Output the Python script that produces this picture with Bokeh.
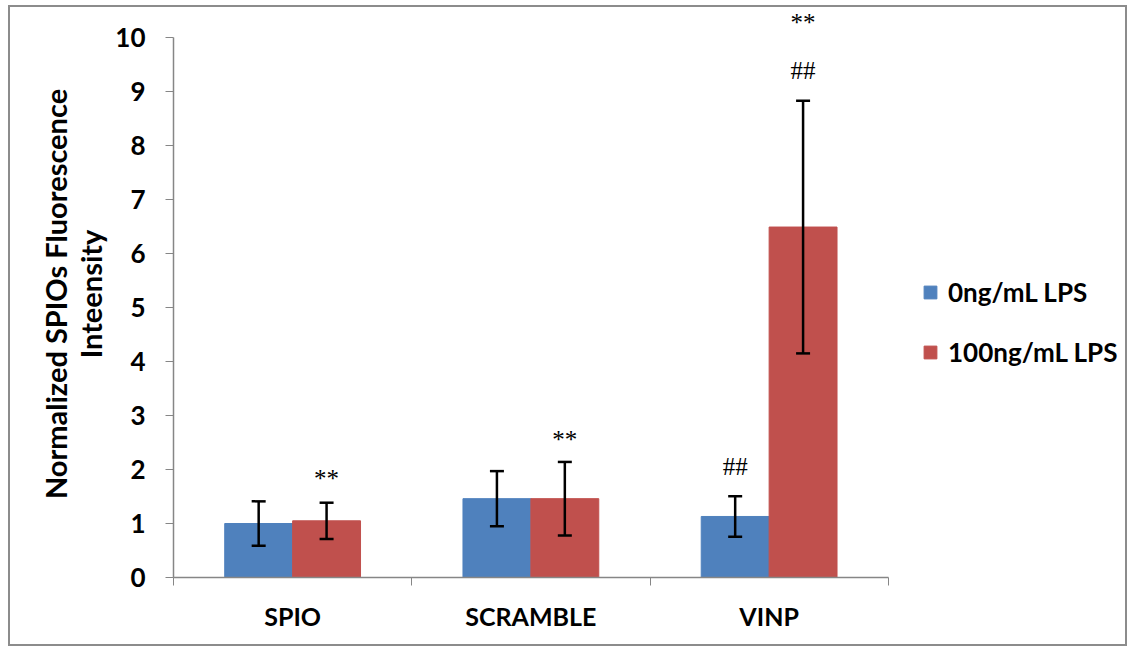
from bokeh.plotting import figure
from bokeh.models import (ColumnDataSource, Range1d, FixedTicker, Whisker, TeeHead,
                          LabelSet, Legend, LegendItem)
from bokeh.embed import file_html
from bokeh.resources import INLINE

categories = ["SPIO", "SCRAMBLE", "VINP"]
series_names = ["0ng/mL LPS", "100ng/mL LPS"]
lps0_mean = [1.00, 1.46, 1.13]
lps0_err = [0.41, 0.51, 0.375]
lps100_mean = [1.05, 1.46, 6.49]
lps100_err = [0.335, 0.68, 2.34]
y_ticks = [0, 1, 2, 3, 4, 5, 6, 7, 8, 9, 10]
marks_cat = ["SPIO", "SCRAMBLE", "VINP", "VINP", "VINP"]
marks_series = [1, 1, 0, 1, 1]
marks_text = ["**", "**", "##", "##", "**"]
marks_y = [1.83, 2.55, 2.05, 9.39, 10.28]

colors = ["#4F81BD", "#C0504D"]
BAR_W = 0.285
FONT = "Lato"
N = len(categories)

p = figure(width=1119, height=641, x_range=Range1d(0, N + 1.0), y_range=Range1d(0, 10.5),
           output_backend="svg", toolbar_location=None,
           min_border_left=163, min_border_right=3, min_border_top=3, min_border_bottom=71)
p.grid.visible = False
p.outline_line_color = None
p.background_fill_color = "white"
p.border_fill_color = "white"

centers = [i + 0.5 for i in range(N)]
means = [lps0_mean, lps100_mean]
errs = [lps0_err, lps100_err]
renderers = []
for s in range(2):
    xs = [c + (s - 0.5) * BAR_W for c in centers]
    src = ColumnDataSource(dict(x=xs, top=means[s],
                                lower=[m - e for m, e in zip(means[s], errs[s])],
                                upper=[m + e for m, e in zip(means[s], errs[s])]))
    r = p.vbar(x="x", top="top", bottom=0, width=BAR_W, source=src,
               fill_color=colors[s], line_color=colors[s])
    renderers.append(r)
    w = Whisker(base="x", lower="lower", upper="upper", source=src, line_color="black",
                line_width=2.5, level="overlay",
                upper_head=TeeHead(size=14, line_width=2.5, line_color="black"),
                lower_head=TeeHead(size=14, line_width=2.5, line_color="black"))
    p.add_layout(w)

mx = [categories.index(c) + 0.5 + (s - 0.5) * BAR_W for c, s in zip(marks_cat, marks_series)]
msrc = ColumnDataSource(dict(x=mx, y=marks_y, t=marks_text))
p.add_layout(LabelSet(x="x", y="y", text="t", source=msrc, text_align="center",
                      text_baseline="middle", text_font_size="25px", text_font=FONT,
                      text_color="black", level="overlay"))

# axes
ax = p.xaxis[0]
ax.ticker = FixedTicker(ticks=centers, minor_ticks=list(range(N + 1)))
ax.bounds = (0, N)
ax.major_label_overrides = {c: n for c, n in zip(centers, categories)}
ax.major_tick_line_color = None
ax.major_tick_out = 0
ax.minor_tick_line_color = "#868686"
ax.minor_tick_out = 8
ax.minor_tick_in = 0
ax.axis_line_color = "#868686"
ax.axis_line_width = 1.5
ax.major_label_text_font = FONT
ax.major_label_text_font_style = "bold"
ax.major_label_text_font_size = "25px"
ax.major_label_text_color = "black"
ax.major_label_standoff = 15

ay = p.yaxis[0]
ay.ticker = FixedTicker(ticks=y_ticks, minor_ticks=[])
ay.bounds = (0, 10)
ay.major_tick_line_color = "#868686"
ay.major_tick_out = 8
ay.major_tick_in = 0
ay.axis_line_color = "#868686"
ay.axis_line_width = 1.5
ay.major_label_text_font = FONT
ay.major_label_text_font_style = "bold"
ay.major_label_text_font_size = "26px"
ay.major_label_text_color = "black"
ay.major_label_standoff = 20
ay.axis_label = "Normalized SPIOs Fluorescence\nInteensity"
ay.axis_label_text_font = FONT
ay.axis_label_text_font_style = "bold"
ay.axis_label_text_font_size = "29px"
ay.axis_label_text_color = "black"
ay.axis_label_text_line_height = 1.0
ay.axis_label_standoff = 4

legend = Legend(items=[LegendItem(label=series_names[i], renderers=[renderers[i]]) for i in range(2)],
                location=(749, 209), border_line_color=None, background_fill_alpha=0,
                label_text_font=FONT, label_text_font_style="bold", label_text_font_size="26px",
                label_text_color="black",
                glyph_width=16, glyph_height=16, label_height=26, spacing=28, padding=0,
                margin=0, label_standoff=10)
p.add_layout(legend)

p.styles = {"border": "2px solid #8c8c8c", "margin-left": "8px", "margin-top": "5px"}

open("out.html", "w").write(file_html(p, INLINE))
